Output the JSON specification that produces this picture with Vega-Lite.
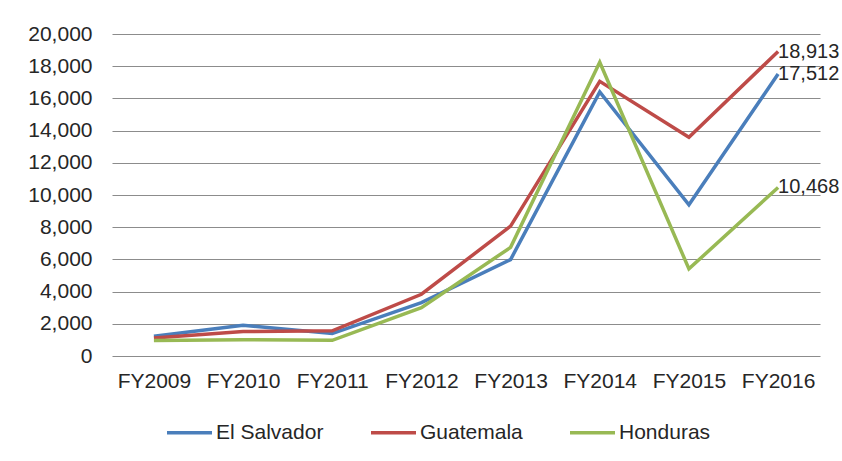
{
  "$schema": "https://vega.github.io/schema/vega-lite/v6.json",
  "width": 708,
  "height": 322,
  "autosize": {"type": "none"},
  "padding": {"left": 112, "top": 34, "right": 22, "bottom": 105},
  "background": "white",
  "config": {
    "view": {"stroke": null},
    "font": "Liberation Sans",
    "axis": {"labelFont": "Liberation Sans", "labelFontSize": 21, "labelColor": "#262626"},
    "legend": {"labelFont": "Liberation Sans", "labelFontSize": 21, "labelColor": "#262626"}
  },
  "data": {
    "values": [
      {"year": "FY2009", "country": "El Salvador", "value": 1221},
      {"year": "FY2010", "country": "El Salvador", "value": 1910},
      {"year": "FY2011", "country": "El Salvador", "value": 1394},
      {"year": "FY2012", "country": "El Salvador", "value": 3314},
      {"year": "FY2013", "country": "El Salvador", "value": 5990},
      {"year": "FY2014", "country": "El Salvador", "value": 16404},
      {"year": "FY2015", "country": "El Salvador", "value": 9389},
      {"year": "FY2016", "country": "El Salvador", "value": 17512},
      {"year": "FY2009", "country": "Guatemala", "value": 1115},
      {"year": "FY2010", "country": "Guatemala", "value": 1517},
      {"year": "FY2011", "country": "Guatemala", "value": 1565},
      {"year": "FY2012", "country": "Guatemala", "value": 3835},
      {"year": "FY2013", "country": "Guatemala", "value": 8068},
      {"year": "FY2014", "country": "Guatemala", "value": 17057},
      {"year": "FY2015", "country": "Guatemala", "value": 13589},
      {"year": "FY2016", "country": "Guatemala", "value": 18913},
      {"year": "FY2009", "country": "Honduras", "value": 968},
      {"year": "FY2010", "country": "Honduras", "value": 1017},
      {"year": "FY2011", "country": "Honduras", "value": 974},
      {"year": "FY2012", "country": "Honduras", "value": 2997},
      {"year": "FY2013", "country": "Honduras", "value": 6747},
      {"year": "FY2014", "country": "Honduras", "value": 18244},
      {"year": "FY2015", "country": "Honduras", "value": 5409},
      {"year": "FY2016", "country": "Honduras", "value": 10468}
    ]
  },
  "encoding": {
    "x": {
      "field": "year", "type": "ordinal", "title": null,
      "scale": {"type": "point", "padding": 0.47},
      "axis": {"labelAngle": 0, "ticks": false, "domain": false, "labelPadding": 14, "grid": false}
    },
    "y": {
      "field": "value", "type": "quantitative", "title": null,
      "scale": {"domain": [0, 20000], "nice": false},
      "axis": {
        "values": [0, 2000, 4000, 6000, 8000, 10000, 12000, 14000, 16000, 18000, 20000],
        "labelExpr": "format(datum.value, ',')", "ticks": false, "domain": false, "labelPadding": 20,
        "gridColor": "#8c8c8c", "gridWidth": 1.2, "gridOpacity": 1
      }
    },
    "color": {
      "field": "country", "type": "nominal",
      "scale": {"domain": ["El Salvador", "Guatemala", "Honduras"], "range": ["#4A7EBB", "#BE4B48", "#98B954"]},
      "legend": {
        "title": null, "orient": "none", "direction": "horizontal",
        "legendX": 53, "legendY": 374,
        "symbolType": "stroke", "symbolSize": 2025, "symbolStrokeWidth": 3.5,
        "labelOffset": 2, "columnPadding": 40, "symbolOffset": 0
      }
    }
  },
  "layer": [
    {"mark": {"type": "line", "strokeWidth": 3.5}},
    {
      "transform": [{"filter": "datum.year == 'FY2016'"}],
      "mark": {"type": "text", "align": "left", "baseline": "middle", "dx": 0, "fontSize": 20, "font": "Liberation Sans", "color": "#262626"},
      "encoding": {"text": {"field": "value", "type": "quantitative", "format": ","}, "color": {"value": "#262626"}}
    }
  ]
}
